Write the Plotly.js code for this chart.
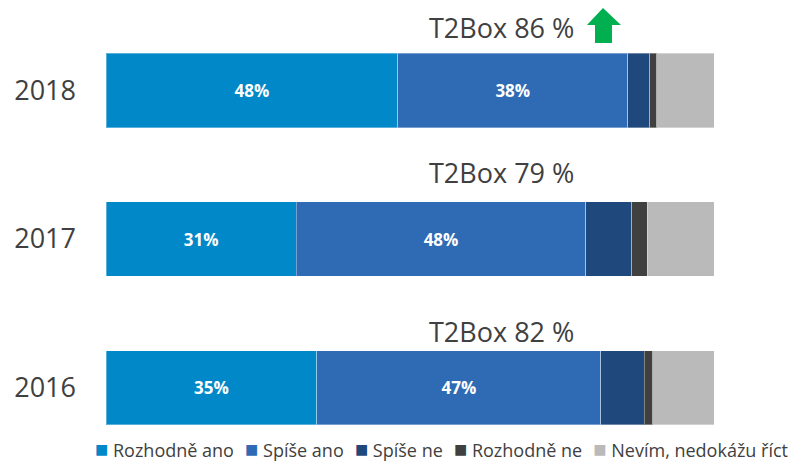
<!DOCTYPE html>
<html>
<head>
<meta charset="utf-8">
<script src="https://cdn.plot.ly/plotly-3.0.1.min.js"></script>
<style>
  html, body { margin: 0; padding: 0; background: #fff; }
  #chart { width: 790px; height: 462px; }
</style>
</head>
<body>
<div id="chart"></div>
<script>
// years, bottom to top
const years = ["2016", "2017", "2018"];

// share of answers per year (each row sums to ~100)
const rozhodneAno = [34.7, 31.3, 48.0];
const spiseAno    = [46.7, 47.6, 37.8];
const spiseNe     = [7.1, 7.6, 3.6];
const rozhodneNe  = [1.4, 2.5, 1.2];
const nevim       = [10.1, 11.0, 9.4];

// labels printed inside the bars
const labelsAno   = ["35%", "31%", "48%"];
const labelsSpise = ["47%", "48%", "38%"];

// top-2-box value per year
const t2box = ["T2Box 82 %", "T2Box 79 %", "T2Box 86 %"];

const seriesNames = ["Rozhodně ano", "Spíše ano", "Spíše ne", "Rozhodně ne", "Nevím, nedokážu říct"];
const seriesValues = [rozhodneAno, spiseAno, spiseNe, rozhodneNe, nevim];
const seriesLabels = [labelsAno, labelsSpise, null, null, null];
const colors = ["#0088c8", "#2e6bb4", "#1f487c", "#404040", "#bababa"];

const font = "Open Sans, Liberation Sans, sans-serif";

let data = [];
for (let i = 0; i < seriesNames.length; i++) {
  let tr = {
    type: "bar",
    orientation: "h",
    name: seriesNames[i],
    y: years,
    x: seriesValues[i],
    marker: {color: colors[i], line: {color: "rgba(255,255,255,0.35)", width: 1}},
    hoverinfo: "none",
    showlegend: false
  };
  if (seriesLabels[i]) {
    tr.text = seriesLabels[i];
    tr.textposition = "inside";
    tr.insidetextanchor = "middle";
    tr.textangle = 0;
    tr.textfont = {family: font, size: 17, color: "#ffffff", weight: "bold"};
  } else {
    tr.textposition = "none";
  }
  data.push(tr);
}

// pixel helpers for paper coordinates
const W = 790, H = 462, ml = 106, mr = 76, mt = 16, mb = 0;
const px = v => (v - ml) / (W - ml - mr);
const py = v => (H - mb - v) / (H - mt - mb);

// T2Box captions above each bar
const t2boxOffset = [0.38, 0.45, 0.42];
let annotations = [];
for (let i = 0; i < years.length; i++) {
  annotations.push({
    x: 65.05, y: i + t2boxOffset[i], xref: "x", yref: "y",
    text: t2box[i], showarrow: false,
    font: {family: font, size: 27, color: "#404040"},
    xanchor: "center", yanchor: "middle"
  });
}

// legend line under the chart, built from the series names and colours
const gap = "\u00a0\u00a0\u200a";
const legendText = seriesNames.map((n, i) =>
  '<span style="color:' + colors[i] + ';font-size:22px">■</span>\u00a0' + n).join(gap);
annotations.push({
  x: px(94), y: 0, xref: "paper", yref: "paper",
  xanchor: "left", yanchor: "bottom",
  yshift: -2,
  text: legendText, showarrow: false,
  borderpad: 0,
  font: {family: font, size: 18, color: "#404040"}
});

// green up arrow next to the 2018 caption
const arrowPts = [[603, 8], [621, 25], [612, 25], [612, 43], [595, 43], [595, 25], [587, 25]];
const arrowPath = "M" + arrowPts.map(p => px(p[0]).toFixed(4) + "," + py(p[1]).toFixed(4)).join(" L") + " Z";

const layout = {
  width: W, height: H,
  margin: {l: ml, r: mr, t: mt, b: mb, autoexpand: false},
  paper_bgcolor: "#ffffff",
  plot_bgcolor: "#ffffff",
  barmode: "stack",
  bargap: 0.5,
  showlegend: false,
  xaxis: {range: [0, 100], visible: false, fixedrange: true},
  yaxis: {
    type: "category",
    categoryorder: "array",
    categoryarray: years,
    range: [-0.5, 2.5],
    automargin: false,
    showgrid: false, zeroline: false, showline: false,
    ticks: "",
    ticklabelstandoff: 29,
    tickfont: {family: font, size: 27, color: "#404040"}
  },
  annotations: annotations,
  shapes: [{
    type: "path", xref: "paper", yref: "paper",
    path: arrowPath,
    fillcolor: "#00b050", line: {width: 0}
  }]
};

Plotly.newPlot("chart", data, layout, {displayModeBar: false, staticPlot: true});
</script>
</body>
</html>
